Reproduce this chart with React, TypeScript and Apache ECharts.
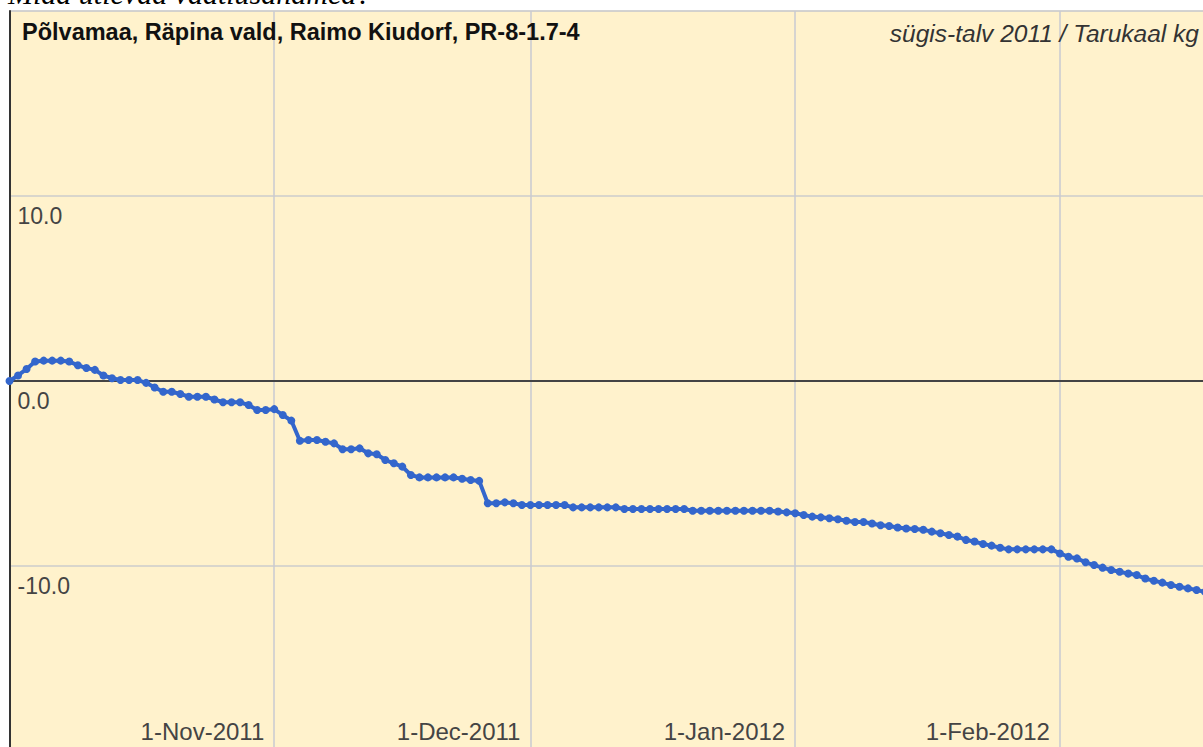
import React, { useEffect, useRef } from "react";
import * as echarts from "echarts";

// Daily observations from 1 Oct 2011
const startDate = "2011-10-01";
const dayCount = 144; // axis span: 1 Oct 2011 .. 21 Feb 2012
const monthNames = ["Jan", "Feb", "Mar", "Apr", "May", "Jun", "Jul", "Aug", "Sep", "Oct", "Nov", "Dec"];

const weightValues: number[] = [
  0.0, 0.3, 0.65, 1.05, 1.1, 1.1, 1.1, 1.05, 0.85, 0.7,
  0.6, 0.3, 0.15, 0.05, 0.05, 0.05, -0.1, -0.35, -0.58, -0.58,
  -0.7, -0.85, -0.85, -0.85, -1.0, -1.15, -1.15, -1.15, -1.3, -1.57,
  -1.57, -1.52, -1.84, -2.14, -3.23, -3.19, -3.19, -3.28, -3.37, -3.69,
  -3.69, -3.64, -3.91, -3.96, -4.27, -4.45, -4.63, -5.08, -5.21, -5.21,
  -5.21, -5.21, -5.21, -5.28, -5.35, -5.4, -6.61, -6.61, -6.56, -6.61,
  -6.7, -6.7, -6.7, -6.7, -6.7, -6.7, -6.83, -6.83, -6.83, -6.83,
  -6.83, -6.83, -6.92, -6.92, -6.92, -6.92, -6.92, -6.92, -6.92, -6.92,
  -7.01, -7.01, -7.01, -7.01, -7.01, -7.01, -7.01, -7.01, -7.01, -7.01,
  -7.05, -7.1, -7.15, -7.24, -7.33, -7.37, -7.42, -7.47, -7.55, -7.62,
  -7.62, -7.7, -7.8, -7.84, -7.92, -7.97, -8.0, -8.04, -8.14, -8.23,
  -8.32, -8.41, -8.59, -8.68, -8.81, -8.9, -9.01, -9.1, -9.1, -9.1,
  -9.1, -9.1, -9.1, -9.32, -9.5, -9.59, -9.8, -9.95, -10.09, -10.22,
  -10.31, -10.41, -10.49, -10.68, -10.8, -10.9, -11.03, -11.12, -11.21, -11.3,
  -11.4,
];

const yTicks = [-20, -10, 0, 10, 20];
const titleLeft = "Põlvamaa, Räpina vald, Raimo Kiudorf, PR-8-1.7-4";
const titleRight = "sügis-talv 2011 / Tarukaal kg";
const pageHeading = "Mida ütlevad vaatlusandmed?";

const dateCategories: string[] = (() => {
  const out: string[] = [];
  const base = new Date(startDate + "T00:00:00Z").getTime();
  for (let i = 0; i < dayCount; i++) {
    const d = new Date(base + i * 86400000);
    out.push(d.toISOString().slice(0, 10));
  }
  return out;
})();

const isMonthStart = (v: string) => v.slice(8, 10) === "01";
const fmtDate = (v: string) => {
  const y = v.slice(0, 4);
  const m = parseInt(v.slice(5, 7), 10);
  const d = parseInt(v.slice(8, 10), 10);
  return `${d}-${monthNames[m - 1]}-${y}`;
};

const FONT = "Arial, 'Liberation Sans', sans-serif";

export default function App() {
  const ref = useRef<HTMLDivElement>(null);
  useEffect(() => {
    if (!ref.current) return;
    const chart = echarts.init(ref.current, undefined, { renderer: "svg" });
    chart.setOption({
      animation: false,
      backgroundColor: "transparent",
      grid: {
        left: 9.5,
        top: 11,
        width: 8.54 * (dayCount - 1),
        height: 740,
        show: true,
        backgroundColor: "#FFF2CC",
        borderColor: "#CCCCCC",
        borderWidth: 1,
      },
      xAxis: {
        type: "category",
        data: dateCategories,
        boundaryGap: false,
        axisLine: { show: false },
        axisTick: { show: false },
        splitLine: {
          show: true,
          interval: (idx: number, v: string) => idx > 0 && isMonthStart(v),
          lineStyle: { color: "#C8CAD2", width: 1.5 },
        },
        axisLabel: {
          inside: true,
          interval: (idx: number, v: string) => idx > 0 && isMonthStart(v),
          formatter: (v: string) => fmtDate(v),
          align: "right",
          verticalAlign: "middle",
          margin: 20,
          padding: [0, 10, 0, 0],
          color: "#444444",
          fontSize: 24,
          fontFamily: FONT,
        },
      },
      yAxis: {
        type: "value",
        min: yTicks[0],
        max: yTicks[yTicks.length - 1],
        interval: 10,
        axisLine: { show: true, lineStyle: { color: "#333333", width: 2 } },
        axisTick: { show: false },
        splitLine: { show: true, lineStyle: { color: "#CCCCCC", width: 1.5 } },
        axisLabel: {
          inside: true,
          align: "left",
          verticalAlign: "top",
          margin: 8,
          lineHeight: 22,
          padding: [9, 0, 0, 0],
          formatter: (v: number) => (Math.abs(v) >= 20 ? "" : v.toFixed(1)),
          color: "#444444",
          fontSize: 23,
          fontFamily: FONT,
        },
      },
      graphic: [
        {
          type: "text",
          x: 22,
          y: 32,
          style: {
            text: titleLeft,
            font: `bold 23.5px ${FONT}`,
            fill: "#111111",
            align: "left",
            verticalAlign: "middle",
          },
          z: 100,
        },
        {
          type: "text",
          x: 1199,
          y: 33,
          style: {
            text: titleRight,
            font: `italic 24.5px ${FONT}`,
            fill: "#333333",
            align: "right",
            verticalAlign: "middle",
          },
          z: 100,
        },
      ],
      series: [
        {
          type: "line",
          data: weightValues,
          symbol: "circle",
          symbolSize: 8,
          showSymbol: true,
          showAllSymbol: true,
          color: "#3366CC",
          lineStyle: { color: "#3366CC", width: 4 },
          itemStyle: { color: "#3366CC" },
          markLine: {
            silent: true,
            symbol: "none",
            label: { show: false },
            lineStyle: { color: "#444444", width: 2, type: "solid" },
            data: [{ yAxis: 0 }],
          },
          z: 5,
        },
      ],
    });
    return () => chart.dispose();
  }, []);

  return (
    <div
      style={{
        position: "fixed",
        left: 0,
        top: 0,
        width: 1203,
        height: 747,
        overflow: "hidden",
        background: "#ffffff",
      }}
    >
      <div
        style={{
          position: "absolute",
          left: 8,
          top: -24,
          fontFamily: "'Liberation Serif', 'Times New Roman', serif",
          fontStyle: "italic",
          fontSize: 30,
          lineHeight: "36px",
          whiteSpace: "nowrap",
          color: "#000",
        }}
      >
        {pageHeading}
      </div>
      <div
        ref={ref}
        style={{ position: "absolute", left: 0, top: 0, width: 1240, height: 760 }}
      />
    </div>
  );
}
